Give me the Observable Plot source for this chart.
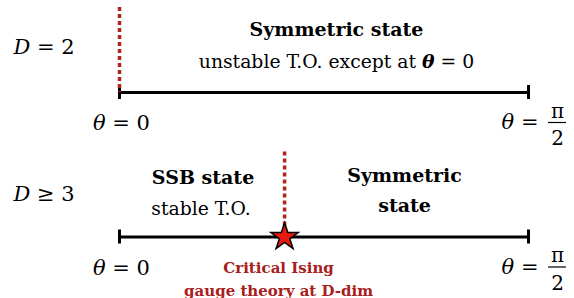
<!DOCTYPE html>
<html><head><meta charset="utf-8">
<script src="https://cdn.jsdelivr.net/npm/d3@7"></script>
<script src="https://cdn.jsdelivr.net/npm/@observablehq/plot@0.6"></script>
<style>
html,body{margin:0;padding:0;background:#fff;}
</style></head><body><div id="chart"></div>
<script>
// ---- data ----
const rowLabels = ["D = 2", "D ≥ 3"];
const rowIndex = [0, 1];
const thetaMin = 0;
const thetaMax = Math.PI / 2;
const transitionTheta = [0, 0.634];          // dotted line position per row
const regionTitles = ["Symmetric state", "SSB state", "Symmetric\nstate"];
const regionNotes = ["unstable T.O. except at θ = 0", "stable T.O.", ""];
const startLabel = "θ = 0";
const endLabel = "θ =";
const endNumerator = "π";
const endDenominator = "2";
const criticalLabel = "Critical Ising\ngauge theory at D-dim";

// ---- derived tables ----
const rows = rowIndex.map(i => ({i, label: rowLabels[i], crit: transitionTheta[i]}));
const ends = rows.flatMap(r => [{i: r.i, t: thetaMin}, {i: r.i, t: thetaMax}]);
const regions = [];
let k = 0;
rows.forEach(r => {
  if (r.crit > thetaMin) { regions.push({j: k, i: r.i, mid: (thetaMin + r.crit) / 2, title: regionTitles[k], note: regionNotes[k]}); k++; }
  regions.push({j: k, i: r.i, mid: (r.crit + thetaMax) / 2, title: regionTitles[k], note: regionNotes[k]}); k++;
});
const critRows = rows.filter(r => r.crit > thetaMin);
const isTop = d => d.i === 0, isBot = d => d.i === 1;
const isSSB = d => d.i === 1 && d.mid < rows[1].crit;
const isSym2 = d => d.i === 1 && d.mid > rows[1].crit;

const RED = "#b3241e", LABELRED = "#a8201b";
const serif = "DejaVu Serif";

const chart = Plot.plot({
  width: 574, height: 298,
  marginTop: 0, marginRight: 0, marginBottom: 0, marginLeft: 0,
  style: {fontFamily: serif, background: "white", color: "black"},
  x: {type: "linear", domain: [thetaMin, thetaMax], range: [119, 528], axis: null},
  y: {type: "linear", domain: [0, 1], range: [92, 236.5], axis: null},
  marks: [
    Plot.ruleY(rows, {y: "i", x1: () => thetaMin, x2: () => thetaMax, stroke: "black", strokeWidth: 3}),
    Plot.ruleX(ends, {x: "t", y1: "i", y2: "i", insetTop: -7, insetBottom: -7, stroke: "black", strokeWidth: 3}),
    Plot.ruleX(rows, {x: "crit", y1: "i", y2: "i", insetTop: -85, stroke: RED, strokeWidth: 3.5, strokeDasharray: "4,3"}),
    Plot.dot(critRows, {x: "crit", y: "i", symbol: "star", r: 8.6, fill: "#e8190f", stroke: "black", strokeWidth: 1.5}),
    Plot.text(rows.filter(isTop), {x: () => thetaMin, y: "i", text: "label", textAnchor: "start", lineAnchor: "bottom", dx: -106, dy: -39, fontSize: 21}),
    Plot.text(rows.filter(isBot), {x: () => thetaMin, y: "i", text: "label", textAnchor: "start", lineAnchor: "bottom", dx: -106, dy: -36, fontSize: 21}),
    Plot.text(rows, {x: () => thetaMin, y: "i", text: () => startLabel, lineAnchor: "bottom", dx: 2, dy: 37.5, fontSize: 21}),
    Plot.text(rows, {x: () => thetaMax, y: "i", text: () => endLabel, textAnchor: "end", lineAnchor: "bottom", dx: 10, dy: 36.5, fontSize: 21}),
    Plot.text(rows, {x: () => thetaMax, y: "i", text: () => endNumerator, lineAnchor: "bottom", dx: 29, dy: 25, fontSize: 20}),
    Plot.text(rows, {x: () => thetaMax, y: "i", text: () => endDenominator, lineAnchor: "bottom", dx: 29, dy: 52.5, fontSize: 20}),
    Plot.ruleY(rows, {y: "i", x1: () => thetaMax, x2: () => thetaMax, insetLeft: 20, insetRight: -38, dy: 30, stroke: "black", strokeWidth: 1.2}),
    // top row region
    Plot.text(regions.filter(isTop), {x: "mid", y: "i", text: "title", lineAnchor: "bottom", dx: 12.5, dy: -57, fontSize: 19, fontWeight: "bold"}),
    Plot.text(regions.filter(isTop), {x: "mid", y: "i", text: "note", lineAnchor: "bottom", dx: 12.5, dy: -25, fontSize: 18.8}),
    // bottom row regions
    Plot.text(regions.filter(isSSB), {x: "mid", y: "i", text: "title", lineAnchor: "bottom", dx: 1, dy: -53, fontSize: 19, fontWeight: "bold"}),
    Plot.text(regions.filter(isSSB), {x: "mid", y: "i", text: "note", lineAnchor: "bottom", dx: -1, dy: -22.5, fontSize: 18.8}),
    Plot.text(regions.filter(isSym2), {x: "mid", y: "i", text: "title", lineAnchor: "bottom", lineHeight: 1.55, dx: -2, dy: -25.5, fontSize: 19, fontWeight: "bold"}),
    // critical label
    Plot.text(critRows, {x: "crit", y: "i", text: () => criticalLabel, lineAnchor: "bottom", lineHeight: 1.47, dx: -6, dy: 58.5, fontSize: 15, fontWeight: "bold", fill: LABELRED})
  ]
});

d3.select(chart).selectAll("text").each(function () {
  if (this.childElementCount) return;
  const s = this.textContent;
  if (!/θ|^D /.test(s)) return;
  const inNote = /except/.test(s);
  const parts = s.split(/(θ|^D(?= ))/).filter(p => p);
  this.textContent = "";
  for (const p of parts) {
    const t = d3.select(this).append("tspan").text(p);
    if (p === "θ" || p === "D") t.attr("font-style", "italic");
    if (p === "θ" && inNote) t.attr("font-weight", "bold");
  }
});
document.getElementById("chart").append(chart);
</script></body></html>
